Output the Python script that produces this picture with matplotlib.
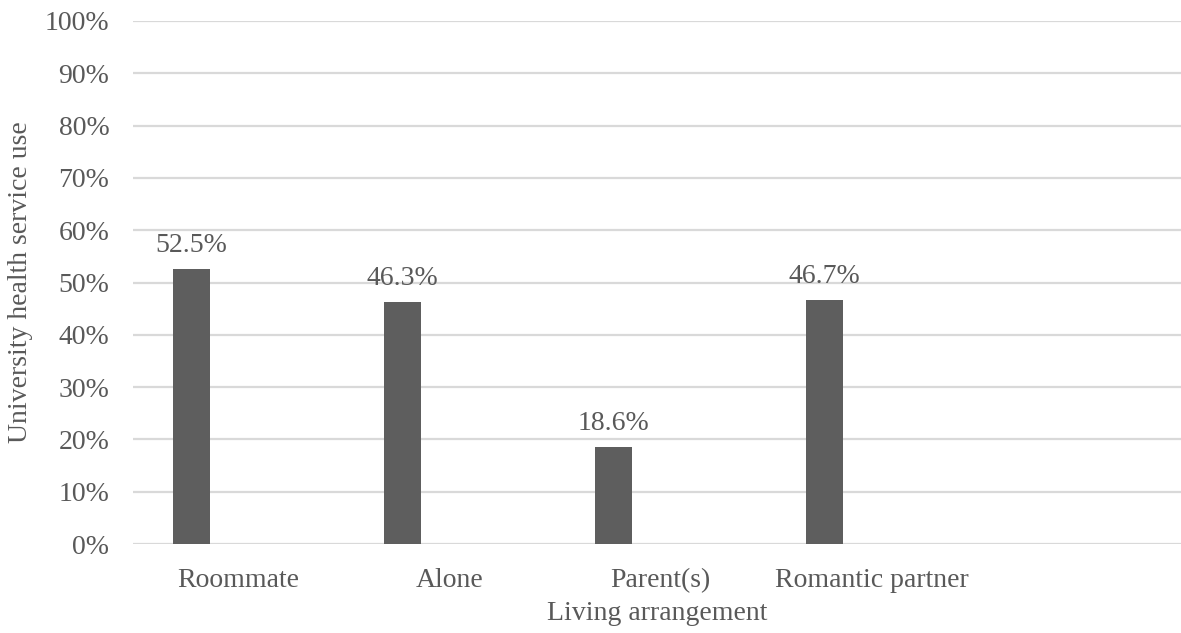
import matplotlib
matplotlib.use("Agg")
import matplotlib.pyplot as plt
from matplotlib.ticker import PercentFormatter

categories = ["Roommate", "Alone", "Parent(s)", "Romantic partner"]
service_use = [52.5, 46.3, 18.6, 46.7]
y_ticks = [0, 10, 20, 30, 40, 50, 60, 70, 80, 90, 100]

TEXT = "#595959"
BAR = "#5e5e5e"
GRID = "#d9d9d9"

plt.rcParams["font.family"] = ["Liberation Serif", "DejaVu Serif"]

fig = plt.figure(figsize=(11.81, 6.33), dpi=100)
W, H = 1181, 633
left, right = 133 / W, 1.0
bottom, top = 1 - 544 / H, 1 - 21 / H
ax = fig.add_axes([left, bottom, right - left, top - bottom])

slot_px = 211
x = list(range(len(categories)))
bar_offset = -47 / slot_px
bar_width = 37 / slot_px
bar_x = [i + bar_offset for i in x]
ax.bar(bar_x, service_use, width=bar_width, color=BAR, zorder=3)

for bx, v in zip(bar_x, service_use):
    ax.annotate(f"{v:.1f}%", (bx, v), xytext=(0, 8), textcoords="offset points",
                ha="center", va="bottom", fontsize=20, color=TEXT)

ax.set_xlim(-0.5, -0.5 + (W - 133) / slot_px)
ax.set_ylim(0, 100)
ax.set_yticks(y_ticks)
ax.yaxis.set_major_formatter(PercentFormatter(decimals=0))
ax.set_xticks(x)
ax.set_xticklabels(categories)

ax.grid(axis="y", color=GRID, linewidth=1.6, zorder=0)
ax.set_axisbelow(True)
for s in ["top", "right", "left", "bottom"]:
    ax.spines[s].set_visible(False)
ax.tick_params(axis="both", length=0, labelsize=20, colors=TEXT)
ax.tick_params(axis="y", pad=17)
ax.tick_params(axis="x", pad=17)

ax.set_xlabel("Living arrangement", fontsize=20, color=TEXT, labelpad=6)
ax.set_ylabel("University health service use", fontsize=20, color=TEXT)
ax.yaxis.set_label_coords(-(133 - 33) / (W - 133), 0.5)

fig.savefig("out.png", dpi=100)
